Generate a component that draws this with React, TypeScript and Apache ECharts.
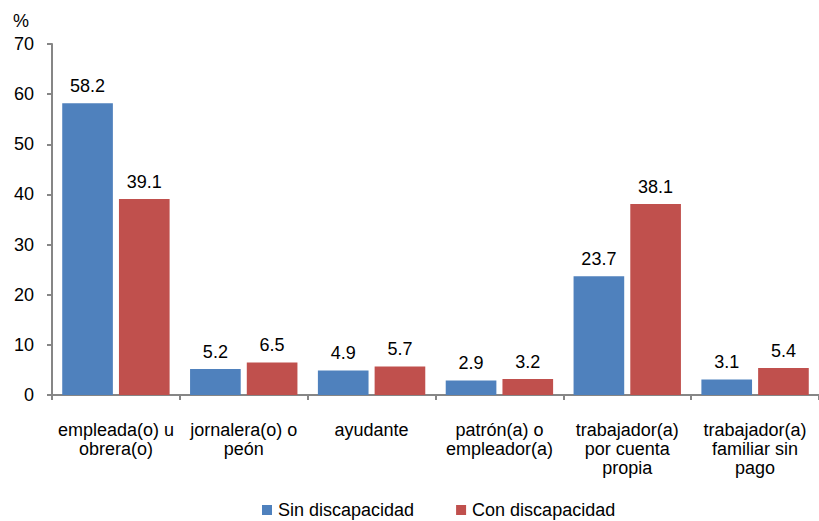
import React, { useEffect, useRef } from "react";
import * as echarts from "echarts";

const categories = [
  "empleada(o) u\nobrera(o)",
  "jornalera(o) o\npeón",
  "ayudante",
  "patrón(a) o\nempleador(a)",
  "trabajador(a)\npor cuenta\npropia",
  "trabajador(a)\nfamiliar sin\npago",
];
const sinDiscapacidad = [58.2, 5.2, 4.9, 2.9, 23.7, 3.1];
const conDiscapacidad = [39.1, 6.5, 5.7, 3.2, 38.1, 5.4];
const seriesNames = ["Sin discapacidad", "Con discapacidad"];

const FONT = "'Liberation Sans', Arial, sans-serif";
const SIZE = 18;

export default function App() {
  const ref = useRef<HTMLDivElement>(null);

  useEffect(() => {
    document.body.style.margin = "0";
    const chart = echarts.init(ref.current!, null, { renderer: "svg" });
    const labelStyle = {
      show: true,
      position: "top" as const,
      distance: 8,
      color: "#000",
      fontSize: SIZE,
      fontFamily: FONT,
      formatter: (p: any) => p.value.toFixed(1),
    };
    chart.setOption({
      animation: false,
      textStyle: { fontFamily: FONT },
      graphic: [
        {
          type: "text",
          left: 13,
          top: 12,
          style: { text: "%", fontSize: SIZE, fontFamily: FONT, fill: "#000" },
        },
      ],
      legend: {
        left: 262,
        top: 501,
        padding: 0,
        itemWidth: 10,
        itemHeight: 10,
        itemGap: 42,
        icon: "rect",
        textStyle: { fontSize: SIZE, color: "#000", fontFamily: FONT, padding: [0, 0, 0, 1] },
        data: seriesNames,
      },
      grid: { left: 52, right: -6, top: 44, bottom: 126, containLabel: false },
      xAxis: {
        type: "category",
        data: categories,
        axisLine: { lineStyle: { color: "#868686", width: 2 } },
        axisTick: { show: true, length: 5, lineStyle: { color: "#868686", width: 2 } },
        axisLabel: {
          color: "#000",
          fontSize: SIZE,
          fontFamily: FONT,
          margin: 25,
          lineHeight: 19,
          interval: 0,
        },
      },
      yAxis: {
        type: "value",
        min: 0,
        max: 70,
        interval: 10,
        splitLine: { show: false },
        axisLine: { show: true, lineStyle: { color: "#868686", width: 2 } },
        axisTick: { show: true, length: 5, lineStyle: { color: "#868686", width: 2 } },
        axisLabel: { color: "#000", fontSize: SIZE, fontFamily: FONT, margin: 18 },
      },
      series: [
        {
          name: seriesNames[0],
          type: "bar",
          data: sinDiscapacidad,
          barGap: "12%",
          barCategoryGap: "16%",
          itemStyle: { color: "#4F81BD" },
          label: labelStyle,
        },
        {
          name: seriesNames[1],
          type: "bar",
          data: conDiscapacidad,
          itemStyle: { color: "#C0504D" },
          label: labelStyle,
        },
      ],
    });
    return () => chart.dispose();
  }, []);

  return <div ref={ref} style={{ width: 819, height: 521 }} />;
}
